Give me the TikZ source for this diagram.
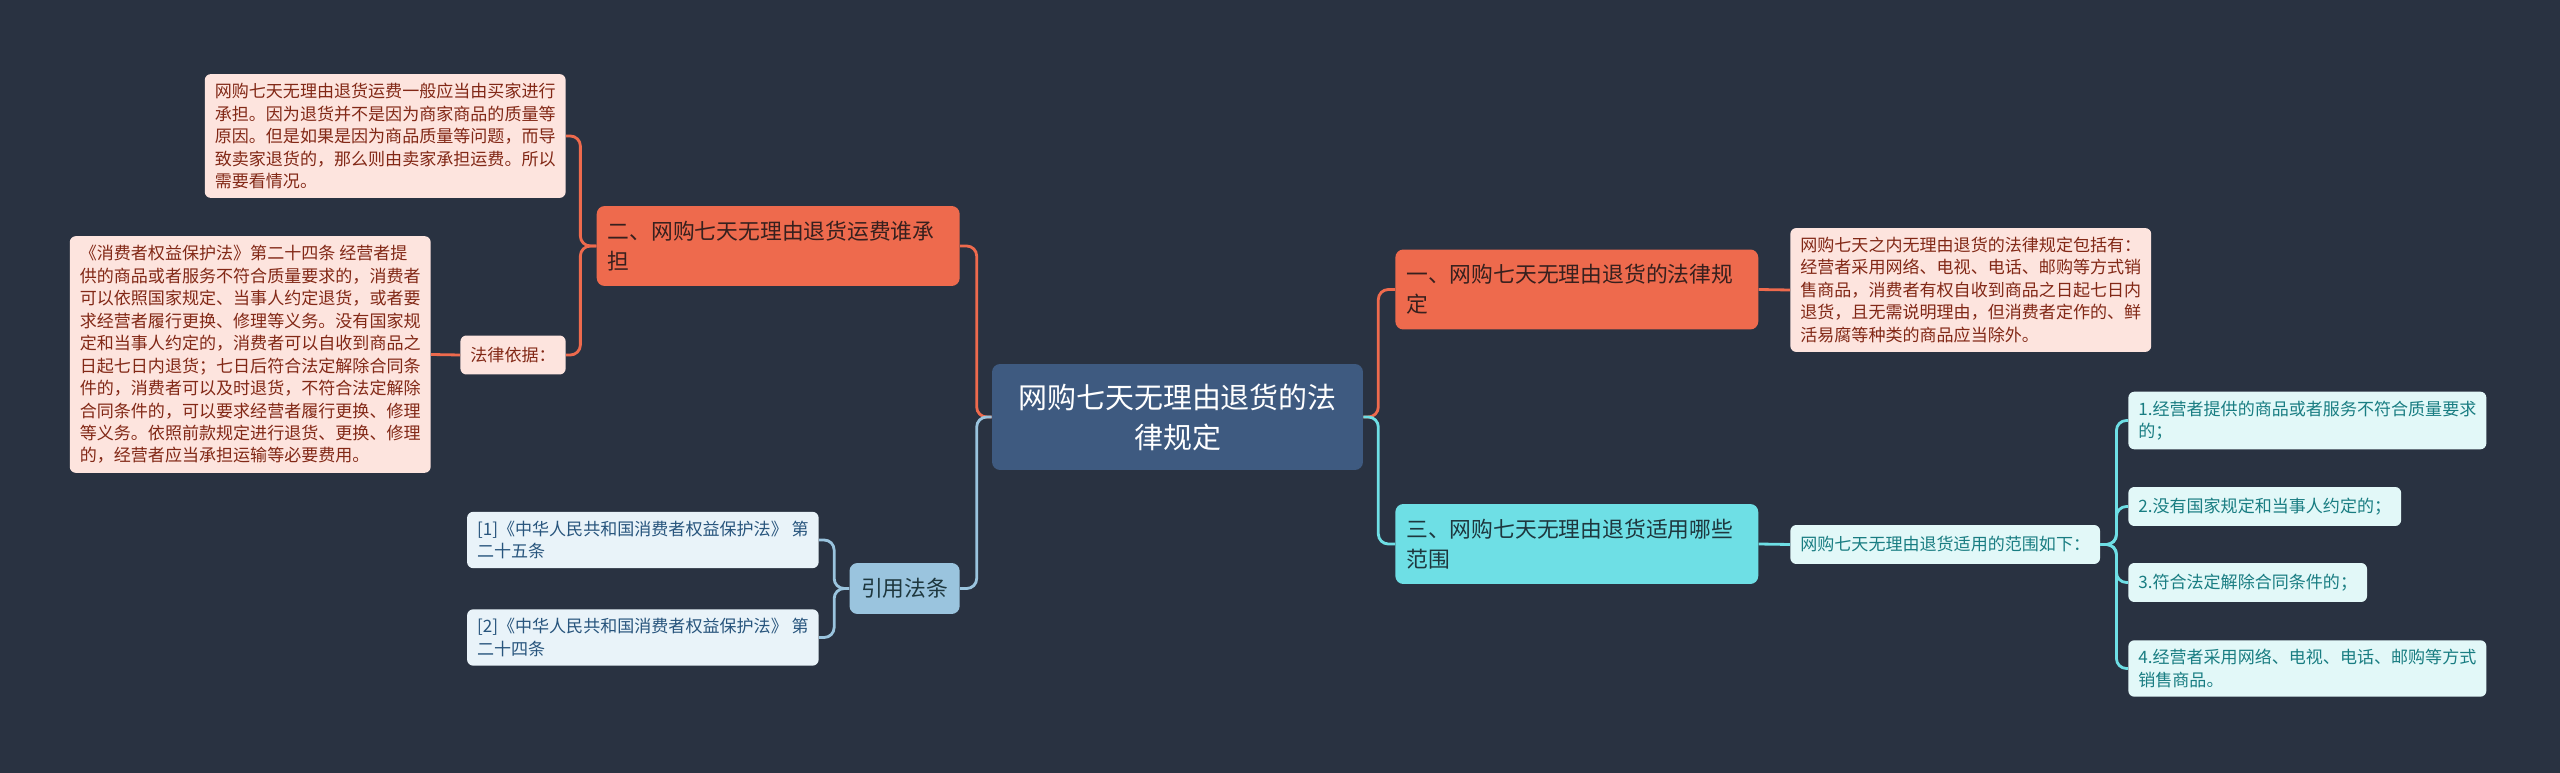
\documentclass[tikz,border=0pt]{standalone}
\usepackage{fontspec}
\setmainfont{Noto Sans CJK SC}
\definecolor{bgdark}{RGB}{41,50,65}
\definecolor{rootblue}{RGB}{62,90,128}
\definecolor{brorange}{RGB}{238,106,77}
\definecolor{lforange}{RGB}{253,228,222}
\definecolor{txorange}{RGB}{130,40,22}
\definecolor{txbranch}{RGB}{55,32,30}
\definecolor{brcyan}{RGB}{110,223,229}
\definecolor{lfcyan}{RGB}{226,248,248}
\definecolor{txcyan}{RGB}{25,125,130}
\definecolor{txbrcyan}{RGB}{30,55,62}
\definecolor{brsteel}{RGB}{154,196,222}
\definecolor{lfsteel}{RGB}{233,243,249}
\definecolor{txsteel}{RGB}{40,85,125}

\begin{document}
\begin{tikzpicture}[x=0.02cm, y=-0.02cm,
  rootbox/.style={fill=rootblue, rounded corners=0.16cm, text=white, align=center, inner sep=0pt,
    minimum width=7.42cm, minimum height=2.12cm, font=\fontsize{16.5}{22.8}\selectfont},
  branch/.style={rounded corners=0.16cm, text width=6.82cm, align=left, inner xsep=0.22cm, inner ysep=0pt,
    minimum height=1.6cm, font=\fontsize{12.4}{17}\selectfont},
  citebox/.style={fill=brsteel, text=txbrcyan, rounded corners=0.16cm, inner xsep=0.23cm, inner ysep=0pt,
    minimum height=1.02cm, font=\fontsize{12.4}{17}\selectfont},
  leaf/.style={rounded corners=0.12cm, align=left, inner xsep=0.2cm, inner ysep=0.18cm,
    minimum height=0.78cm, font=\fontsize{9.7}{12.8}\selectfont},
  leafor/.style={leaf, fill=lforange, text=txorange},
  leafcy/.style={leaf, fill=lfcyan, text=txcyan},
  leafst/.style={leaf, fill=lfsteel, text=txsteel},
  linkor/.style={draw=brorange, line width=1.6pt, rounded corners=0.2cm},
  linkcy/.style={draw=brcyan, line width=1.6pt, rounded corners=0.2cm},
  linkst/.style={draw=brsteel, line width=1.6pt, rounded corners=0.2cm}]
\fill[bgdark] (0,0) rectangle (2560,773);

\node[rootbox] (root) at (1177.5,417) {网购七天无理由退货的法\\律规定};

\node[branch, fill=brorange, text=txbranch, anchor=east] (b2) at (960,246) {二、网购七天无理由退货运费谁承\\担};
\node[leafor, anchor=east] (fee) at (566,136) {网购七天无理由退货运费一般应当由买家进行\\承担。因为退货并不是因为商家商品的质量等\\原因。但是如果是因为商品质量等问题，而导\\致卖家退货的，那么则由卖家承担运费。所以\\需要看情况。};
\node[leafor, anchor=east] (basis) at (566,355) {法律依据：};
\node[leafor, anchor=east] (art24) at (431,354.5) {《消费者权益保护法》第二十四条 经营者提\\供的商品或者服务不符合质量要求的，消费者\\可以依照国家规定、当事人约定退货，或者要\\求经营者履行更换、修理等义务。没有国家规\\定和当事人约定的，消费者可以自收到商品之\\日起七日内退货；七日后符合法定解除合同条\\件的，消费者可以及时退货，不符合法定解除\\合同条件的，可以要求经营者履行更换、修理\\等义务。依照前款规定进行退货、更换、修理\\的，经营者应当承担运输等必要费用。};

\node[citebox, anchor=east] (cite) at (960,588.5) {引用法条};
\node[leafst, anchor=east] (ref1) at (819,540) {[1]《中华人民共和国消费者权益保护法》 第\\二十五条};
\node[leafst, anchor=east] (ref2) at (819,637.5) {[2]《中华人民共和国消费者权益保护法》 第\\二十四条};

\node[branch, fill=brorange, text=txbranch, anchor=west] (b1) at (1395,289.5) {一、网购七天无理由退货的法律规\\定};
\node[leafor, anchor=west] (rule) at (1790,290) {网购七天之内无理由退货的法律规定包括有：\\经营者采用网络、电视、电话、邮购等方式销\\售商品，消费者有权自收到商品之日起七日内\\退货，且无需说明理由，但消费者定作的、鲜\\活易腐等种类的商品应当除外。};

\node[branch, fill=brcyan, text=txbrcyan, anchor=west] (b3) at (1395,544) {三、网购七天无理由退货适用哪些\\范围};
\node[leafcy, anchor=west] (scope) at (1790,544.5) {网购七天无理由退货适用的范围如下：};
\node[leafcy, anchor=west] (item1) at (2128,420.5) {1.经营者提供的商品或者服务不符合质量要求\\的；};
\node[leafcy, anchor=west] (item2) at (2128,506.5) {2.没有国家规定和当事人约定的；};
\node[leafcy, anchor=west] (item3) at (2128,582.5) {3.符合法定解除合同条件的；};
\node[leafcy, anchor=west] (item4) at (2128,668.5) {4.经营者采用网络、电视、电话、邮购等方式\\销售商品。};

\draw[linkor] (root.west) -- ++(-15,0) |- (b2.east);
\draw[linkst] (root.west) -- ++(-15,0) |- (cite.east);
\draw[linkor] (root.east) -- ++(15,0) |- (b1.west);
\draw[linkcy] (root.east) -- ++(15,0) |- (b3.west);

\draw[linkor] (b2.west) -- ++(-16,0) |- (fee.east);
\draw[linkor] (b2.west) -- ++(-16,0) |- (basis.east);
\draw[linkor] (basis.west) -- (art24.east);

\draw[linkst] (cite.west) -- ++(-15,0) |- (ref1.east);
\draw[linkst] (cite.west) -- ++(-15,0) |- (ref2.east);

\draw[linkor] (b1.east) -- (rule.west);
\draw[linkcy] (b3.east) -- (scope.west);
\draw[linkcy] (scope.east) -- ++(16,0) |- (item1.west);
\draw[linkcy] (scope.east) -- ++(16,0) |- (item2.west);
\draw[linkcy] (scope.east) -- ++(16,0) |- (item3.west);
\draw[linkcy] (scope.east) -- ++(16,0) |- (item4.west);
\end{tikzpicture}
\end{document}
